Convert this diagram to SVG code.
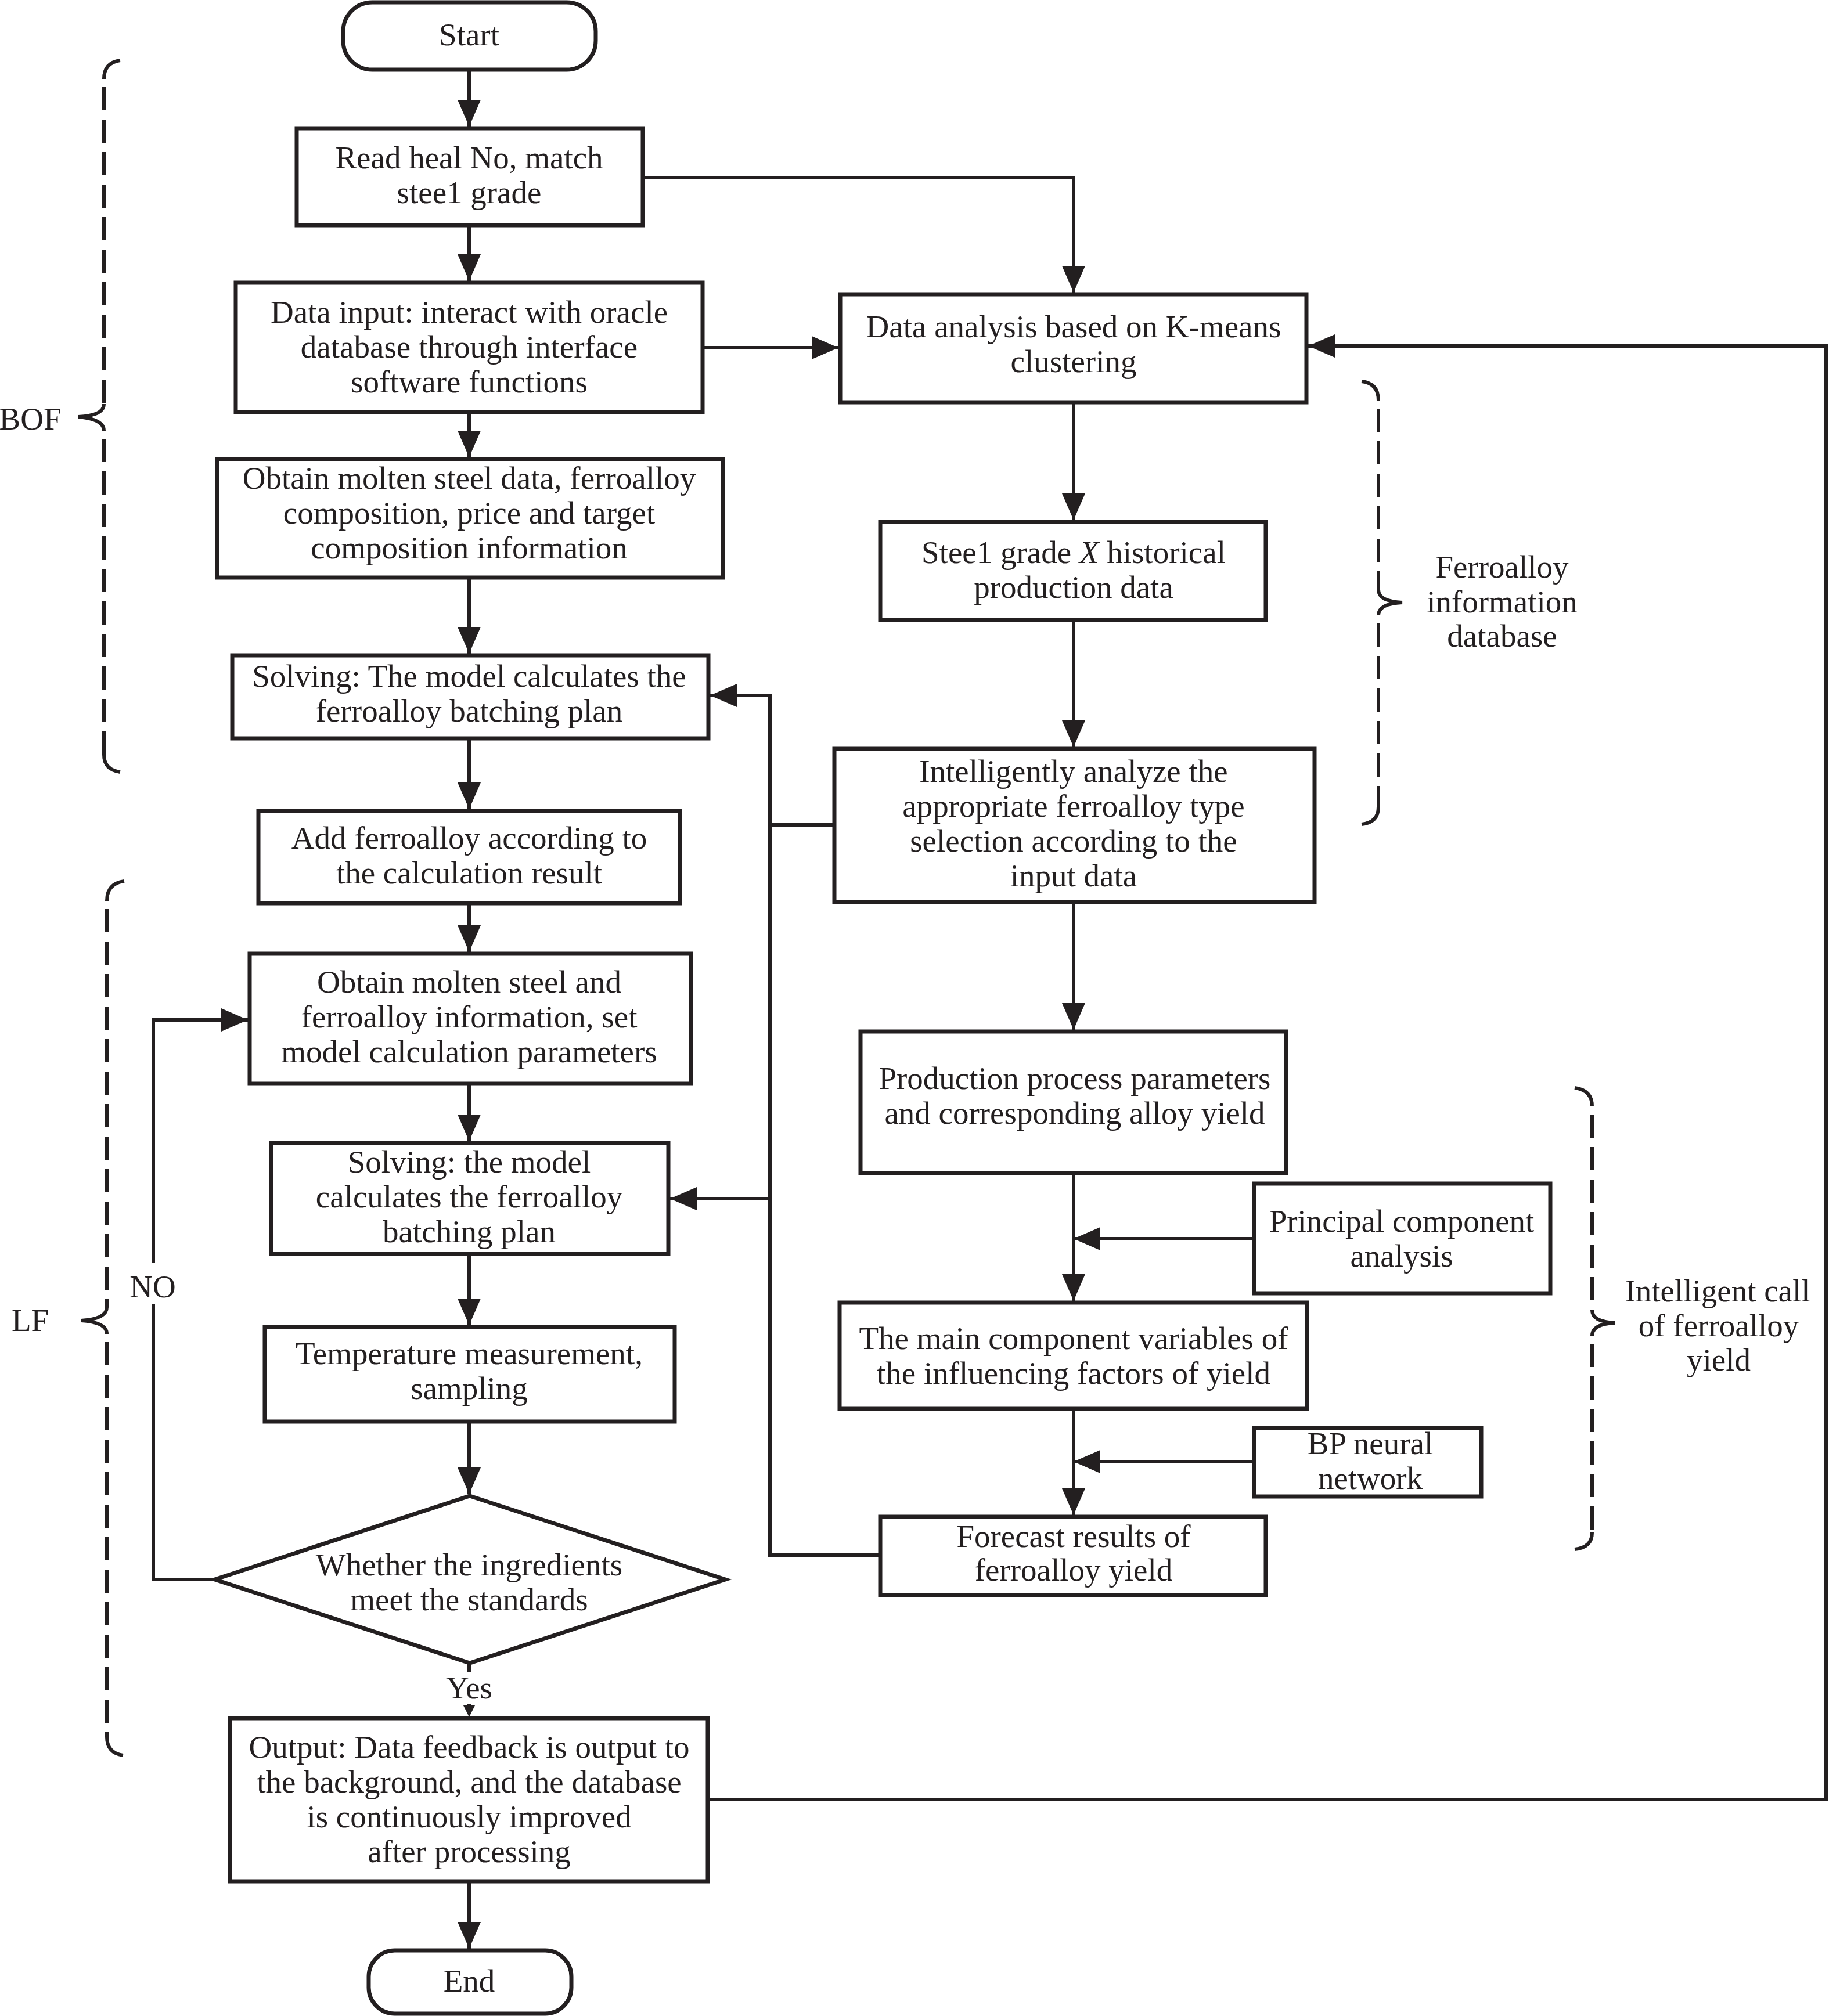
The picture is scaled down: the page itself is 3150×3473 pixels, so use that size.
<svg xmlns="http://www.w3.org/2000/svg" width="3150" height="3473" viewBox="0 0 3150 3473">
<style>
.box{fill:#fff;stroke:#231f20;stroke-width:7}
.ln{fill:none;stroke:#231f20;stroke-width:6}
.arr{fill:none;stroke:#231f20;stroke-width:6;marker-end:url(#ah)}
.br{fill:none;stroke:#231f20;stroke-width:6}
.dash{fill:none;stroke:#231f20;stroke-width:6;stroke-dasharray:40 16}
text{font-family:"Liberation Serif","Times New Roman",serif;font-size:55px;fill:#231f20;text-anchor:middle}
</style>
<defs>
<marker id="ah" markerUnits="userSpaceOnUse" markerWidth="46" markerHeight="40" refX="46" refY="20" orient="auto" viewBox="0 0 46 40">
<path d="M0,0 L46,20 L0,40 Z" fill="#231f20"/>
</marker>
</defs>
<rect width="3150" height="3473" fill="#fff"/>

<g id="connectors">
<line class="arr" x1="808" y1="122" x2="808" y2="218"/>
<line class="arr" x1="808" y1="388" x2="808" y2="484"/>
<line class="arr" x1="808" y1="710" x2="808" y2="788"/>
<line class="arr" x1="808" y1="995" x2="808" y2="1126"/>
<line class="arr" x1="808" y1="1272" x2="808" y2="1394"/>
<line class="arr" x1="808" y1="1556" x2="808" y2="1640"/>
<line class="arr" x1="808" y1="1867" x2="808" y2="1966"/>
<line class="arr" x1="808" y1="2160" x2="808" y2="2283"/>
<line class="arr" x1="808" y1="2449" x2="808" y2="2574"/>
<line class="ln" x1="808" y1="2865" x2="808" y2="2880"/>
<line class="ln" x1="808" y1="2936" x2="808" y2="2945"/>
<polygon points="798,2938 818,2938 808,2958" fill="#231f20"/>
<line class="arr" x1="808" y1="3241" x2="808" y2="3357"/>
<polyline class="ln" points="371,2721 264,2721 264,2247"/>
<polyline class="arr" points="264,2176 264,1757 427,1757"/>
<polyline class="arr" points="1108,306 1849,306 1849,504"/>
<line class="arr" x1="1210" y1="599" x2="1444" y2="599"/>
<polyline class="arr" points="1220,3100 3145,3100 3145,596 2253,596"/>
<line class="arr" x1="1849" y1="693" x2="1849" y2="896"/>
<line class="arr" x1="1849" y1="1068" x2="1849" y2="1287"/>
<line class="arr" x1="1849" y1="1554" x2="1849" y2="1774"/>
<line class="arr" x1="1849" y1="2021" x2="1849" y2="2241"/>
<line class="arr" x1="2160" y1="2134" x2="1849" y2="2134"/>
<line class="arr" x1="1849" y1="2427" x2="1849" y2="2610"/>
<line class="arr" x1="2160" y1="2518" x2="1849" y2="2518"/>
<line class="ln" x1="1437" y1="1421" x2="1326" y2="1421"/>
<line class="ln" x1="1516" y1="2679" x2="1326" y2="2679"/>
<line class="ln" x1="1326" y1="1195" x2="1326" y2="2682"/>
<line class="arr" x1="1326" y1="1198" x2="1223" y2="1198"/>
<line class="arr" x1="1326" y1="2065" x2="1154" y2="2065"/>
</g>

<g id="start"><rect class="box" x="591" y="4" width="435" height="116" rx="50" ry="50"/><text x="808" y="78">Start</text></g>
<g id="read-heat"><rect class="box" x="511" y="221" width="596" height="167"/><text x="808" y="290">Read heal No, match</text><text x="808" y="350">stee1 grade</text></g>
<g id="data-input"><rect class="box" x="406" y="487" width="804" height="223"/><text x="808" y="556">Data input: interact with oracle</text><text x="808" y="616">database through interface</text><text x="808" y="676">software functions</text></g>
<g id="obtain-data"><rect class="box" x="374" y="791" width="871" height="204"/><text x="808" y="842">Obtain molten steel data, ferroalloy</text><text x="808" y="902">composition, price and target</text><text x="808" y="962">composition information</text></g>
<g id="solving-bof"><rect class="box" x="400" y="1129" width="820" height="143"/><text x="808" y="1183">Solving: The model calculates the</text><text x="808" y="1243">ferroalloy batching plan</text></g>
<g id="add-ferroalloy"><rect class="box" x="445" y="1397" width="726" height="159"/><text x="808" y="1462">Add ferroalloy according to</text><text x="808" y="1522">the calculation result</text></g>
<g id="obtain-lf"><rect class="box" x="430" y="1643" width="760" height="224"/><text x="808" y="1710">Obtain molten steel and</text><text x="808" y="1770">ferroalloy information, set</text><text x="808" y="1830">model calculation parameters</text></g>
<g id="solving-lf"><rect class="box" x="467" y="1969" width="684" height="191"/><text x="808" y="2020">Solving: the model</text><text x="808" y="2080">calculates the ferroalloy</text><text x="808" y="2140">batching plan</text></g>
<g id="temperature"><rect class="box" x="456" y="2286" width="706" height="163"/><text x="808" y="2350">Temperature measurement,</text><text x="808" y="2410">sampling</text></g>
<g id="decision"><polygon class="box" points="809,2577 1249,2721 809,2865 370,2721"/><text x="808" y="2714">Whether the ingredients</text><text x="808" y="2774">meet the standards</text></g>
<g id="output"><rect class="box" x="396" y="2960" width="823" height="281"/><text x="808" y="3028">Output: Data feedback is output to</text><text x="808" y="3088">the background, and the database</text><text x="808" y="3148">is continuously improved</text><text x="808" y="3208">after processing</text></g>
<g id="end"><rect class="box" x="635" y="3360" width="349" height="109" rx="45" ry="45"/><text x="808" y="3431">End</text></g>

<g id="data-analysis"><rect class="box" x="1447" y="507" width="803" height="186"/><text x="1849" y="581">Data analysis based on K-means</text><text x="1849" y="641">clustering</text></g>
<g id="steel-grade-x"><rect class="box" x="1516" y="899" width="664" height="169"/><text x="1849" y="970">Stee1 grade <tspan font-style="italic">X</tspan> historical</text><text x="1849" y="1030">production data</text></g>
<g id="intelligently"><rect class="box" x="1437" y="1290" width="827" height="264"/><text x="1849" y="1347">Intelligently analyze the</text><text x="1849" y="1407">appropriate ferroalloy type</text><text x="1849" y="1467">selection according to the</text><text x="1849" y="1527">input data</text></g>
<g id="production"><rect class="box" x="1482" y="1777" width="733" height="244"/><text x="1851" y="1876">Production process parameters</text><text x="1851" y="1936">and corresponding alloy yield</text></g>
<g id="pca"><rect class="box" x="2160" y="2039" width="510" height="189"/><text x="2414" y="2122">Principal component</text><text x="2414" y="2182">analysis</text></g>
<g id="main-component"><rect class="box" x="1446" y="2244" width="805" height="183"/><text x="1849" y="2324">The main component variables of</text><text x="1849" y="2384">the influencing factors of yield</text></g>
<g id="bp"><rect class="box" x="2160" y="2460" width="391" height="118"/><text x="2360" y="2505">BP neural</text><text x="2360" y="2565">network</text></g>
<g id="forecast"><rect class="box" x="1516" y="2613" width="664" height="135"/><text x="1849" y="2665">Forecast results of</text><text x="1849" y="2723">ferroalloy yield</text></g>

<g id="brace-bof">
<path class="br" d="M207,104 Q179,108 179,136"/>
<line class="dash" x1="179" y1="150" x2="179" y2="696"/>
<path class="br" d="M179,696 Q179,716 135,718 Q179,722 179,742"/>
<line class="dash" x1="179" y1="756" x2="179" y2="1300"/>
<path class="br" d="M179,1300 Q179,1326 207,1330"/>
<text x="52" y="740">BOF</text>
</g>
<g id="brace-lf">
<path class="br" d="M214,1518 Q184,1522 184,1552"/>
<line class="dash" x1="184" y1="1566" x2="184" y2="2252"/>
<path class="br" d="M184,2252 Q184,2272 140,2275 Q184,2278 184,2298"/>
<line class="dash" x1="184" y1="2312" x2="184" y2="2992"/>
<path class="br" d="M184,2992 Q184,3020 212,3024"/>
<text x="52" y="2293">LF</text>
<text x="263" y="2235">NO</text>
<text x="808" y="2926">Yes</text>
</g>
<g id="brace-database">
<path class="br" d="M2345,657 Q2374,660 2374,690"/>
<line class="dash" x1="2374" y1="704" x2="2374" y2="1016"/>
<path class="br" d="M2374,1016 Q2374,1036 2415,1038 Q2374,1040 2374,1060"/>
<line class="dash" x1="2374" y1="1074" x2="2374" y2="1390"/>
<path class="br" d="M2374,1390 Q2374,1417 2345,1420"/>
<text x="2587" y="995">Ferroalloy</text>
<text x="2587" y="1055">information</text>
<text x="2587" y="1114">database</text>
</g>
<g id="brace-yield">
<path class="br" d="M2712,1874 Q2742,1878 2742,1906"/>
<line class="dash" x1="2742" y1="1920" x2="2742" y2="2257"/>
<path class="br" d="M2742,2257 Q2742,2277 2781,2279 Q2742,2281 2742,2301"/>
<line class="dash" x1="2742" y1="2315" x2="2742" y2="2640"/>
<path class="br" d="M2742,2640 Q2742,2666 2712,2669"/>
<text x="2958" y="2242">Intelligent call</text>
<text x="2960" y="2302">of ferroalloy</text>
<text x="2960" y="2361">yield</text>
</g>
</svg>
